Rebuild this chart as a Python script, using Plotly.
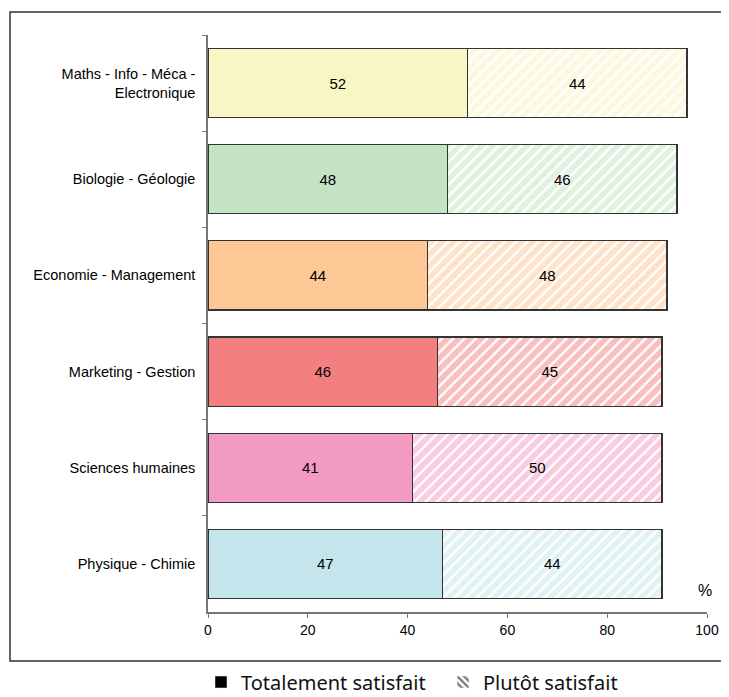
import plotly.graph_objects as go

categories = ["Maths - Info - Méca -<br>Electronique", "Biologie - Géologie", "Economie - Management",
              "Marketing - Gestion", "Sciences humaines", "Physique - Chimie"]
totalement = [52, 48, 44, 46, 41, 47]
plutot = [44, 46, 48, 45, 50, 44]
colors = ["#f8f6c4", "#c4e3c2", "#fdc895", "#f47f80", "#f39ac3", "#c4e5eb"]
series_names = ["Totalement satisfait", "Plutôt satisfait"]
x_ticks = [0, 20, 40, 60, 80, 100]

fig = go.Figure()
fig.add_trace(go.Bar(
    y=categories, x=totalement, orientation="h", name=series_names[0], showlegend=False,
    marker=dict(color=colors, line=dict(color="#333", width=1.2)),
    text=[str(v) for v in totalement], textposition="inside", insidetextanchor="middle",
    textfont=dict(family="Arial, Liberation Sans", size=15, color="black"),
    hoverinfo="skip"))
fig.add_trace(go.Bar(
    y=categories, x=plutot, orientation="h", name=series_names[1], showlegend=False,
    marker=dict(color="white", line=dict(color="#333", width=1.2),
                pattern=dict(shape="/", fgcolor=colors, bgcolor="white", size=8, solidity=0.7)),
    text=[str(v) for v in plutot], textposition="inside", insidetextanchor="middle",
    textfont=dict(family="Arial, Liberation Sans", size=15, color="black"),
    hoverinfo="skip"))
# legend entries
fig.add_trace(go.Bar(y=[categories[0]], x=[None], orientation="h", name=series_names[0],
                     marker=dict(color="black")))
fig.add_trace(go.Bar(y=[categories[0]], x=[None], orientation="h", name=series_names[1],
                     marker=dict(color="white", pattern=dict(shape="\\", fgcolor="black",
                                                             bgcolor="white", size=6, solidity=0.5))))

OFF = 8  # page body margin
W, H = 729 - OFF, 697 - OFF
X0, X1, Y0, Y1 = 208, 707, 35, 612  # plot area in screenshot pixels
L, R, T, B = X0 - OFF, W - (X1 - OFF), Y0 - OFF, H - (Y1 - OFF)
pw, ph = X1 - X0, Y1 - Y0

def px(xp):
    return (xp - X0) / pw

def py(yp):
    return (Y1 - yp) / ph

fig.update_layout(
    width=W, height=H, margin=dict(l=L, r=R, t=T, b=B, autoexpand=False),
    paper_bgcolor="white", plot_bgcolor="white",
    barmode="stack", bargap=0.28,
    font=dict(family="Arial, Liberation Sans", size=14, color="black"),
    xaxis=dict(range=[0, 100], tickvals=x_ticks, showgrid=False, zeroline=False,
               showline=True, linecolor="#777", linewidth=1.5, ticks="outside", ticklen=4,
               tickcolor="#777", tickfont=dict(size=14), fixedrange=True),
    yaxis=dict(categoryorder="array", categoryarray=categories, autorange="reversed",
               showgrid=False, zeroline=False, showline=True, linecolor="#777", linewidth=1.5,
               ticks="outside", ticklen=4, tickcolor="#777", tickson="boundaries",
               ticklabelstandoff=8, tickfont=dict(size=14.5), fixedrange=True),
    legend=dict(orientation="h", x=px(201), xanchor="left", y=py(682), yanchor="middle",
                font=dict(family="Noto Sans", size=20, color="#111"),
                entrywidth=197, entrywidthmode="pixels", traceorder="normal"),
    shapes=[dict(type="rect", xref="paper", yref="paper", x0=px(10), x1=px(760),
                 y0=py(661), y1=py(12), line=dict(color="#333", width=1.5))],
    annotations=[dict(text="%", xref="paper", yref="paper", x=px(714), y=py(601),
                      showarrow=False, font=dict(size=16, color="black"))],
)

fig.write_html("out.html")
